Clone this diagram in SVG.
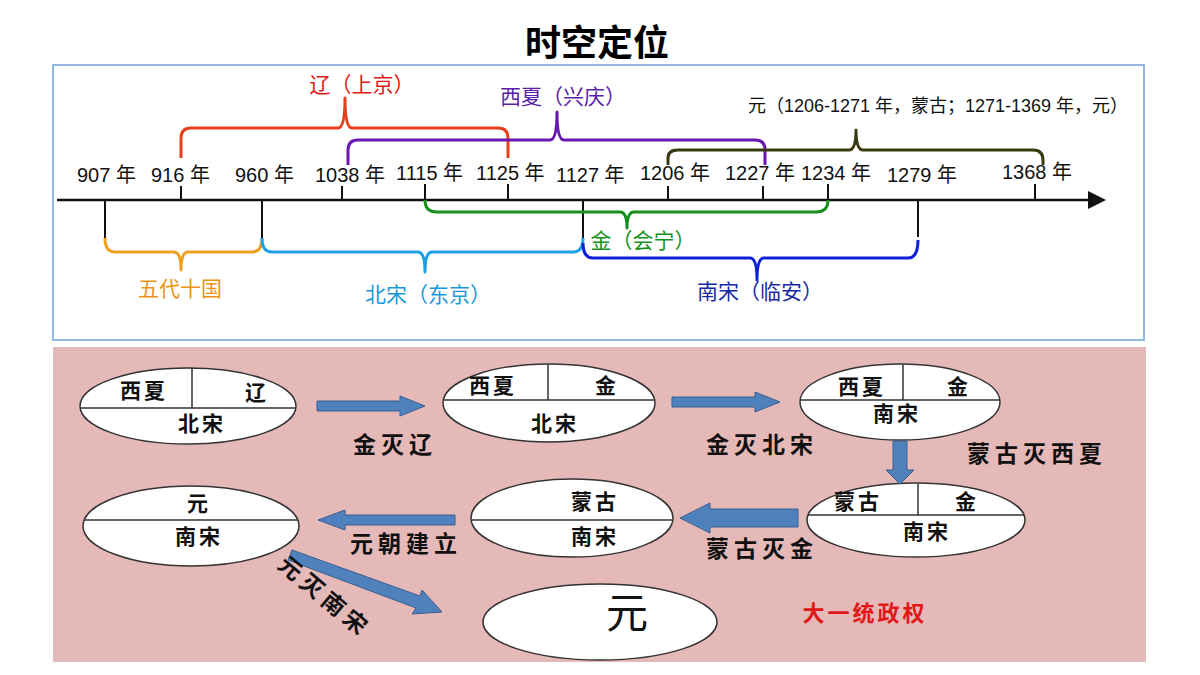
<svg xmlns="http://www.w3.org/2000/svg" width="1200" height="675" viewBox="0 0 1200 675">
<defs>
<style>
text{font-family:"Liberation Sans","Noto Sans CJK SC",sans-serif;}
.yr{font-size:20px;fill:#111;}
.br{fill:none;stroke-width:3;stroke-linejoin:round;}
.tk{stroke:#111;stroke-width:2;}
.el{fill:#fff;stroke:#333;stroke-width:1.5;}
.dv{stroke:#333;stroke-width:1.5;}
.nt{font-size:21px;font-weight:bold;fill:#111;text-anchor:middle;letter-spacing:3px;font-family:"Noto Sans CJK SC",sans-serif;}
.lb{font-size:23px;font-weight:bold;fill:#111;text-anchor:middle;letter-spacing:5px;font-family:"Noto Sans CJK SC",sans-serif;}
.ar{fill:#4f81bd;stroke:#3a5f8f;stroke-width:1;}
</style>
</defs>
<rect width="1200" height="675" fill="#fff"/>
<text x="597" y="56" font-size="36" font-weight="bold" text-anchor="middle" font-family="Noto Sans CJK SC,sans-serif">时空定位</text>
<rect x="53" y="65" width="1091" height="275" fill="#fff" stroke="#6fa0d8" stroke-width="1.5"/>
<g id="timeline">
<line x1="57" y1="200" x2="1090" y2="200" stroke="#111" stroke-width="2.5"/>
<polygon points="1088,191 1106,200 1088,209" fill="#111"/>
<g class="tk">
<line x1="105" y1="200" x2="105" y2="240"/><line x1="181" y1="186" x2="181" y2="200"/>
<line x1="262" y1="200" x2="262" y2="240"/><line x1="342" y1="186" x2="342" y2="200"/>
<line x1="425" y1="184" x2="425" y2="200"/><line x1="508" y1="184" x2="508" y2="200"/>
<line x1="583" y1="200" x2="583" y2="245"/><line x1="668" y1="186" x2="668" y2="200"/>
<line x1="763" y1="186" x2="763" y2="200"/><line x1="828" y1="184" x2="828" y2="200"/>
<line x1="918" y1="200" x2="918" y2="237"/><line x1="1035" y1="184" x2="1035" y2="200"/>
</g>
<text class="yr" x="77" y="182">907 年</text>
<text class="yr" x="151" y="182">916 年</text>
<text class="yr" x="235" y="182">960 年</text>
<text class="yr" x="315" y="182">1038 年</text>
<text class="yr" x="396" y="180">1115 年</text>
<text class="yr" x="476" y="180">1125 年</text>
<text class="yr" x="556" y="182">1127 年</text>
<text class="yr" x="640" y="180">1206 年</text>
<text class="yr" x="725" y="180">1227 年</text>
<text class="yr" x="801" y="180">1234 年</text>
<text class="yr" x="887" y="182">1279 年</text>
<text class="yr" x="1002" y="179">1368 年</text>
</g>
<g id="braces">
<path class="br" stroke="#e8401c" d="M181,158 V138 Q181,128 191,128 H338 Q345,128 345,98 Q345,128 352,128 H498 Q508,128 508,138 V158"/>
<text x="362" y="92" font-size="21" fill="#e01818" text-anchor="middle">辽（上京）</text>
<path class="br" stroke="#6a16b0" d="M348,165 V150 Q348,140 358,140 H550 Q557,140 557,112 Q557,140 564,140 H755 Q765,140 765,150 V165"/>
<text x="563" y="104" font-size="21" fill="#5b1ea8" text-anchor="middle">西夏（兴庆）</text>
<path class="br" stroke="#3a3a10" d="M668,165 V158 Q668,150 678,150 H849 Q856,150 856,130 Q856,150 863,150 H1033 Q1043,150 1043,160 V165"/>
<text x="938" y="112" font-size="18" fill="#111" text-anchor="middle">元（1206-1271 年，蒙古；1271-1369 年，元）</text>
<path class="br" stroke="#16901a" d="M425,200 Q425,212 437,212 H620 Q627,212 627,228 Q627,212 634,212 H816 Q828,212 828,200"/>
<text x="643" y="248" font-size="21" fill="#16901a" text-anchor="middle">金（会宁）</text>
<path class="br" stroke="#f0a020" d="M105,238 Q105,252 115,252 H174 Q181,252 181,270 Q181,252 188,252 H252 Q262,252 262,238"/>
<text x="180" y="296" font-size="21" fill="#e89418" text-anchor="middle">五代十国</text>
<path class="br" stroke="#1ea0e8" d="M262,238 Q262,252 272,252 H418 Q425,252 425,272 Q425,252 432,252 H573 Q583,252 583,238"/>
<text x="428" y="302" font-size="21" fill="#1a9ad8" text-anchor="middle">北宋（东京）</text>
<path class="br" stroke="#1020d8" d="M583,243 Q583,258 593,258 H750 Q757,258 757,280 Q757,258 764,258 H908 Q918,258 918,240"/>
<text x="760" y="299" font-size="21" fill="#1a2aa0" text-anchor="middle">南宋（临安）</text>
</g>
<rect x="53" y="347" width="1093" height="315" fill="#e6b9b9"/>
<g id="n1"><ellipse class="el" cx="188" cy="406" rx="108" ry="38"/><line class="dv" x1="81" y1="408" x2="295" y2="408"/><line class="dv" x1="192" y1="368" x2="192" y2="408"/>
<text class="nt" x="144" y="398">西夏</text><text class="nt" x="257" y="400">辽</text><text class="nt" x="202" y="431">北宋</text></g>
<g id="n2"><ellipse class="el" cx="549" cy="403" rx="106" ry="39"/><line class="dv" x1="444" y1="400" x2="654" y2="400"/><line class="dv" x1="548" y1="364" x2="548" y2="400"/>
<text class="nt" x="493" y="393">西夏</text><text class="nt" x="607" y="393">金</text><text class="nt" x="555" y="431">北宋</text></g>
<g id="n3"><ellipse class="el" cx="900" cy="402" rx="100" ry="38"/><line class="dv" x1="801" y1="400" x2="999" y2="400"/><line class="dv" x1="903" y1="365" x2="903" y2="400"/>
<text class="nt" x="862" y="394">西夏</text><text class="nt" x="959" y="394">金</text><text class="nt" x="897" y="421">南宋</text></g>
<g id="n4"><ellipse class="el" cx="916" cy="520" rx="109" ry="37"/><line class="dv" x1="808" y1="515" x2="1024" y2="515"/><line class="dv" x1="918" y1="484" x2="918" y2="515"/>
<text class="nt" x="858" y="509">蒙古</text><text class="nt" x="967" y="509">金</text><text class="nt" x="927" y="539">南宋</text></g>
<g id="n5"><ellipse class="el" cx="572" cy="518" rx="101" ry="39"/><line class="dv" x1="472" y1="520" x2="672" y2="520"/>
<text class="nt" x="595" y="509">蒙古</text><text class="nt" x="595" y="544">南宋</text></g>
<g id="n6"><ellipse class="el" cx="191" cy="526" rx="108" ry="40"/><line class="dv" x1="84" y1="520" x2="298" y2="520"/>
<text class="nt" x="199" y="511">元</text><text class="nt" x="199" y="544">南宋</text></g>
<g id="n7"><ellipse class="el" cx="600" cy="622" rx="117" ry="38"/>
<text x="627" y="628" font-size="42" text-anchor="middle" font-family="Noto Sans CJK SC,sans-serif" fill="#111">元</text></g>
<g id="connectors">
<polygon class="ar" points="317,401 400,401 400,396 425,406 400,416 400,411 317,411"/>
<polygon class="ar" points="672,397 755,397 755,392 780,402 755,412 755,407 672,407"/>
<polygon class="ar" points="893,441 907,441 907,470 914,470 900,484 886,470 893,470"/>
<polygon class="ar" points="798,509 710,509 710,503 680,518 710,533 710,527 798,527"/>
<polygon class="ar" points="455,515 345,515 345,510 318,520 345,530 345,525 455,525"/>
<polygon class="ar" points="292,550 420,596 422,590 442,612 412,614 416,608 288,560"/>
</g>
<g id="labels">
<text class="lb" x="395" y="453">金灭辽</text>
<text class="lb" x="762" y="453">金灭北宋</text>
<text class="lb" x="1037" y="462">蒙古灭西夏</text>
<text class="lb" x="762" y="557">蒙古灭金</text>
<text class="lb" x="406" y="552">元朝建立</text>
<text class="lb" x="322" y="604" transform="rotate(40 322 600)">元灭南宋</text>
<text x="865" y="621" font-size="22" font-weight="bold" letter-spacing="3" fill="#e01818" text-anchor="middle" font-family="Noto Sans CJK SC,sans-serif">大一统政权</text>
</g>
</svg>
